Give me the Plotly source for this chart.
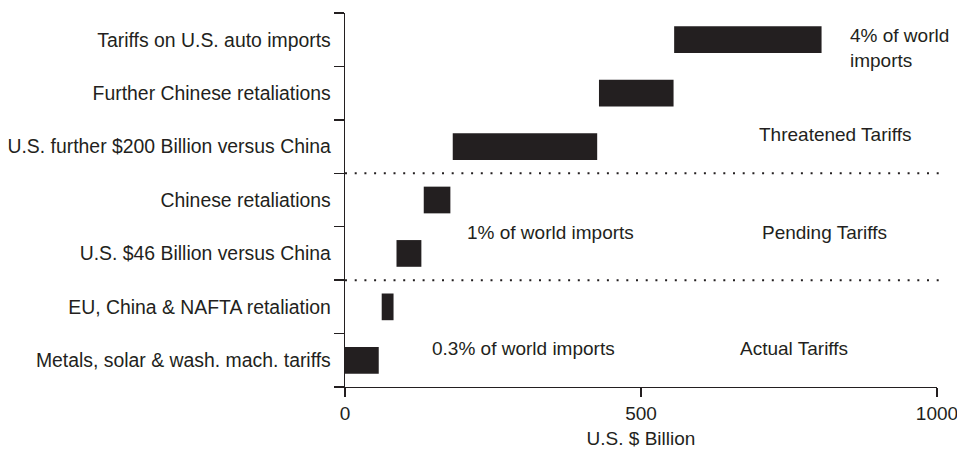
import plotly.graph_objects as go

categories = [
    "Metals, solar & wash. mach. tariffs",
    "EU, China & NAFTA retaliation",
    "U.S. $46 Billion versus China",
    "Chinese retaliations",
    "U.S. further $200 Billion versus China",
    "Further Chinese retaliations",
    "Tariffs on U.S. auto imports",
]
bar_start = [0, 62, 87, 133, 182, 429, 556]
bar_end = [57, 82, 129, 178, 426, 555, 805]
bar_len = [e - s for s, e in zip(bar_start, bar_end)]

x_ticks = [0, 500, 1000]
x_title = "U.S. $ Billion"

group_lines = [1.5, 3.5]
notes = [
    ("4% of world<br>imports", 849, 5.84, "left"),
    ("Threatened Tariffs", 828, 4.23, "center"),
    ("1% of world imports", 347, 2.39, "center"),
    ("Pending Tariffs", 810, 2.39, "center"),
    ("0.3% of world imports", 301, 0.23, "center"),
    ("Actual Tariffs", 759, 0.23, "center"),
]

INK = "#231f20"
FONT = "Liberation Sans, Arial, sans-serif"

fig = go.Figure()
fig.add_trace(go.Bar(
    y=categories, x=bar_len, base=bar_start, orientation="h",
    marker=dict(color=INK, line=dict(width=0)), width=0.5,
    hoverinfo="skip", showlegend=False,
))

for yv in group_lines:
    fig.add_shape(type="line", xref="paper", yref="y", x0=0, x1=1.005, y0=yv, y1=yv,
                  line=dict(color=INK, width=2, dash="2px,7.7px"))

for text, xv, yv, anchor in notes:
    fig.add_annotation(x=xv, y=yv, xref="x", yref="y", text=text, showarrow=False,
                       xanchor=anchor, yanchor="middle", align="left",
                       font=dict(size=19, color=INK, family=FONT))

fig.update_layout(
    width=957, height=450,
    margin=dict(l=345, r=20, t=13, b=63, autoexpand=False),
    plot_bgcolor="white", paper_bgcolor="white",
    font=dict(family=FONT, size=19, color=INK),
    bargap=0.5,
)
fig.update_xaxes(
    range=[0, 1000], tickvals=x_ticks, ticktext=[str(v) for v in x_ticks],
    showline=True, linecolor=INK, linewidth=1.3, ticks="outside", ticklen=9,
    tickcolor=INK, tickwidth=1.3, showgrid=False, zeroline=False,
    title=dict(text=x_title, standoff=8, font=dict(size=19)),
    ticklabeloverflow="allow",
    automargin=False, fixedrange=True,
)
fig.update_yaxes(
    type="category", categoryorder="array", categoryarray=categories,
    range=[-0.5, 6.5], tickson="boundaries",
    showline=True, linecolor=INK, linewidth=1.3, ticks="outside", ticklen=10,
    tickcolor=INK, tickwidth=1.3, showgrid=False, zeroline=False,
    ticklabelstandoff=9, automargin=False, fixedrange=True,
    tickfont=dict(size=19.4),
)

fig.write_html(
    "out.html",
    config={"displayModeBar": False, "staticPlot": True},
    post_script="document.body.style.margin='0';document.body.style.overflow='hidden';",
)
